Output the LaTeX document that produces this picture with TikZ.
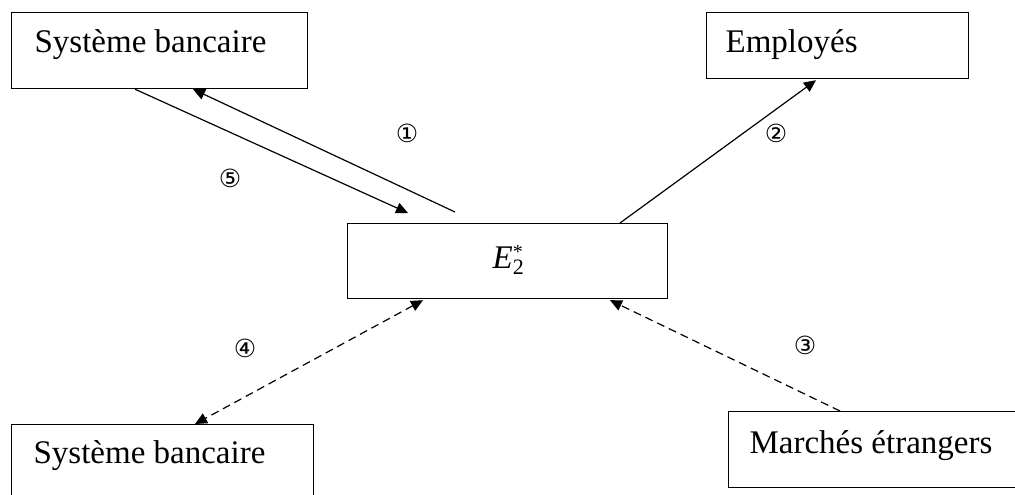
\documentclass[tikz,border=0pt]{standalone}
\usepackage{fontspec}
\setmainfont{Liberation Serif}
\newfontfamily\circfont{DejaVu Sans}
\usetikzlibrary{arrows.meta,calc}
\newcommand{\estar}{\textit{E}\makebox[0pt][l]{\raisebox{10pt}{\fontsize{20}{20}\selectfont *}}\raisebox{-6pt}{\fontsize{22}{22}\selectfont 2}}
\begin{document}
\begin{tikzpicture}[x=1pt,y=-1pt,
  box/.style={draw,line width=1.2pt,rectangle,anchor=north west,inner sep=0pt,
    font=\fontsize{33}{40}\selectfont},
  conn/.style={line width=1.2pt,-{Triangle[length=12pt,width=11pt]}},
  dconn/.style={conn,dash pattern=on 8pt off 5pt},
  num/.style={font=\circfont\fontsize{25}{28}\selectfont,inner sep=0pt}]
\useasboundingbox (0,0) rectangle (1015,495);
% boxes (drawn as empty frames, text placed at baselines)
\node[box,minimum width=296pt,minimum height=76pt] (A) at (11,12) {};
\node[box,minimum width=262pt,minimum height=66pt] (B) at (706,12) {};
\node[box,minimum width=320pt,minimum height=75pt] (E) at (347,223) {};
\node[box,minimum width=302pt,minimum height=80pt] (C) at (11,424) {};
\node[box,minimum width=300pt,minimum height=76pt] (D) at (728,411) {};
\node[box,draw=none,anchor=base west] (At) at ($(A.north west)+(23,41)$) {Système bancaire};
\node[box,draw=none,anchor=base west] (Bt) at ($(B.north west)+(19,41)$) {Employés};
\node[box,draw=none,anchor=base west] (Et) at ($(E.north west)+(145,45)$) {\estar};
\node[box,draw=none,anchor=base west] (Ct) at ($(C.north west)+(22,39)$) {Système bancaire};
\node[box,draw=none,anchor=base west] (Dt) at ($(D.north west)+(21,42)$) {Marchés étrangers};
% connectors
\coordinate (s1) at ($(E.north west)+(108,-11)$);
\coordinate (t5) at ($(E.north west)+(61,-10)$);
\draw[conn] (s1) -- ($(A.south west)+(182,0)$);
\draw[conn] ($(A.south west)+(124,0)$) -- (t5);
\draw[conn] ($(E.north west)+(273,0)$) -- ($(B.south west)+(110,1)$);
\draw[dconn,{Triangle[length=12pt,width=11pt]}-{Triangle[length=12pt,width=11pt]}] ($(E.south west)+(76,1)$) -- ($(C.north west)+(184,0)$);
\draw[dconn] ($(D.north west)+(112,0)$) -- ($(E.south west)+(263,1)$);
% labels
\node[num] (n1) at (407,133) {①};
\node[num] (n2) at (776,133) {②};
\node[num] (n3) at (805,345) {③};
\node[num] (n4) at (245,348) {④};
\node[num] (n5) at (230,178) {⑤};
\end{tikzpicture}
\end{document}
